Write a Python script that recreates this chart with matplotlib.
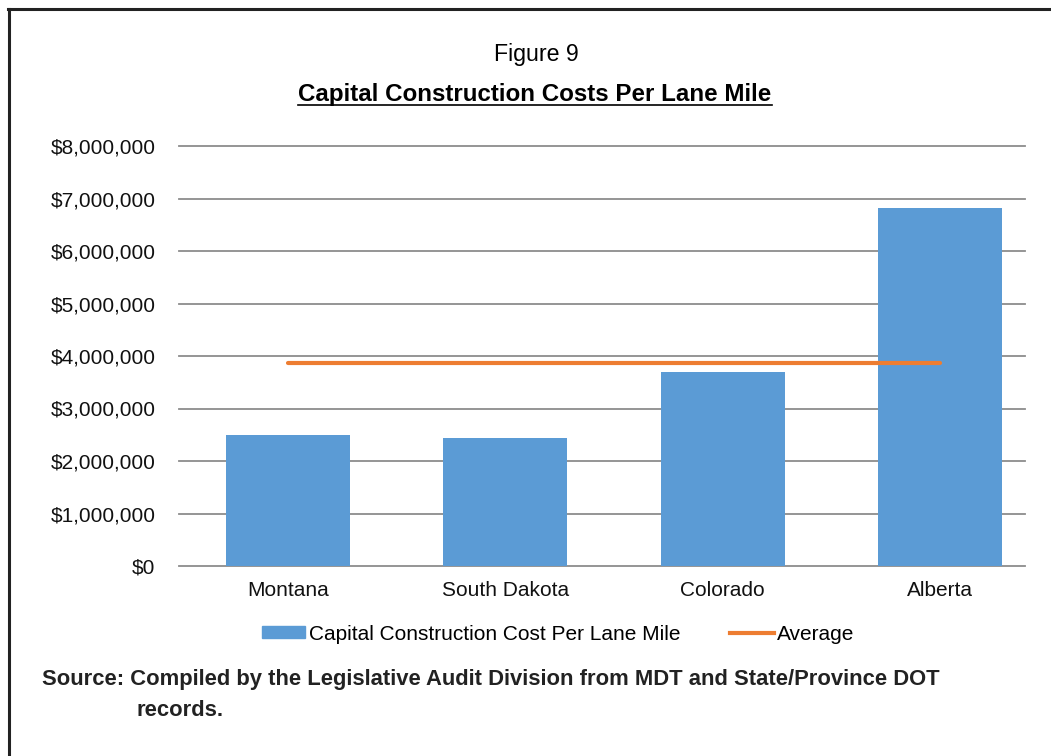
import matplotlib
matplotlib.use("Agg")
import matplotlib.pyplot as plt
from matplotlib.lines import Line2D
from matplotlib.patches import Patch
from matplotlib.ticker import FuncFormatter

plt.rcParams['font.family'] = ['Liberation Sans', 'DejaVu Sans']

CATEGORIES = ["Montana", "South Dakota", "Colorado", "Alberta"]
COST_PER_LANE_MILE = [2490000, 2440000, 3700000, 6810000]
AVERAGE = [3860000, 3860000, 3860000, 3860000]
Y_TICKS = [0, 1000000, 2000000, 3000000, 4000000, 5000000, 6000000, 7000000, 8000000]

BAR_COLOR = "#5B9BD5"
AVG_COLOR = "#ED7D31"
GRID_COLOR = "#8C8C8C"

W, H = 1051, 756
fig = plt.figure(figsize=(W / 100, H / 100), dpi=100)

# axes in pixel coords: left 179, right 1025, top 146, bottom 566
ax = fig.add_axes([179 / W, 1 - 566 / H, (1025 - 179) / W, (566 - 146) / H])
x = range(len(CATEGORIES))
ax.bar(x, COST_PER_LANE_MILE, width=0.57, color=BAR_COLOR, zorder=2)
ax.plot(x, AVERAGE, color=AVG_COLOR, lw=3, solid_capstyle="round", zorder=3)

ax.set_xlim(-0.5, 3.39)
ax.set_ylim(0, 8000000)
ax.set_yticks(Y_TICKS)
ax.yaxis.set_major_formatter(FuncFormatter(lambda v, p: "${:,.0f}".format(v)))
ax.set_xticks(list(x))
ax.set_xticklabels(CATEGORIES)
ax.tick_params(axis="both", length=0, labelsize=15, colors="#111111")
ax.tick_params(axis="y", pad=17)
ax.tick_params(axis="x", pad=11)
ax.grid(axis="y", color=GRID_COLOR, lw=1.3, zorder=0)
for gl in ax.get_ygridlines():
    gl.set_clip_on(False)
for s in ax.spines.values():
    s.set_visible(False)

# titles
t1 = fig.text(536 / W, 1 - 55 / H, "Figure 9", ha="center", va="center", fontsize=16)
t2 = fig.text(535 / W, 1 - 94 / H, "Capital Construction Costs Per Lane Mile", ha="center",
              va="center", fontsize=17, fontweight="bold")

# legend
handles = [Patch(color=BAR_COLOR), Line2D([0], [0], color=AVG_COLOR, lw=3)]
fig.legend(handles, ["Capital Construction Cost Per Lane Mile", "Average"],
           loc="center", bbox_to_anchor=(558 / W, 1 - 634 / H), ncol=2, frameon=False,
           fontsize=15, handlelength=2.1, handletextpad=0.15, columnspacing=2.4,
           handleheight=0.5)

# source note
s1 = fig.text(42 / W, 1 - 679 / H, "Source: Compiled by the Legislative Audit Division from MDT and State/Province DOT",
              ha="left", va="center", fontsize=15, fontweight="bold", color="#222222")
s2 = fig.text(137 / W, 1 - 710 / H, "records.", ha="left", va="center", fontsize=15,
              fontweight="bold", color="#222222")

# frame (top and left edges)
fig.add_artist(Line2D([9 / W, 9 / W], [0, 1 - 9 / H], color="#222222", lw=2.2))
fig.add_artist(Line2D([8 / W, 1], [1 - 9 / H, 1 - 9 / H], color="#222222", lw=2.2))

# fit the narrow-looking texts to their widths in the original
fig.canvas.draw()
r = fig.canvas.get_renderer()
for t, target in [(t1, 85), (t2, 475), (s1, 901)]:
    w = t.get_window_extent(r).width
    t.set_fontsize(t.get_fontsize() * target / w)
s2.set_fontsize(s1.get_fontsize())

# underline the bold title
fig.canvas.draw()
bb = t2.get_window_extent(fig.canvas.get_renderer())
uy = (bb.y0 + 1) / H
fig.add_artist(Line2D([bb.x0 / W, bb.x1 / W], [uy, uy], color="black", lw=1.2))

fig.savefig("out.png", dpi=100)
